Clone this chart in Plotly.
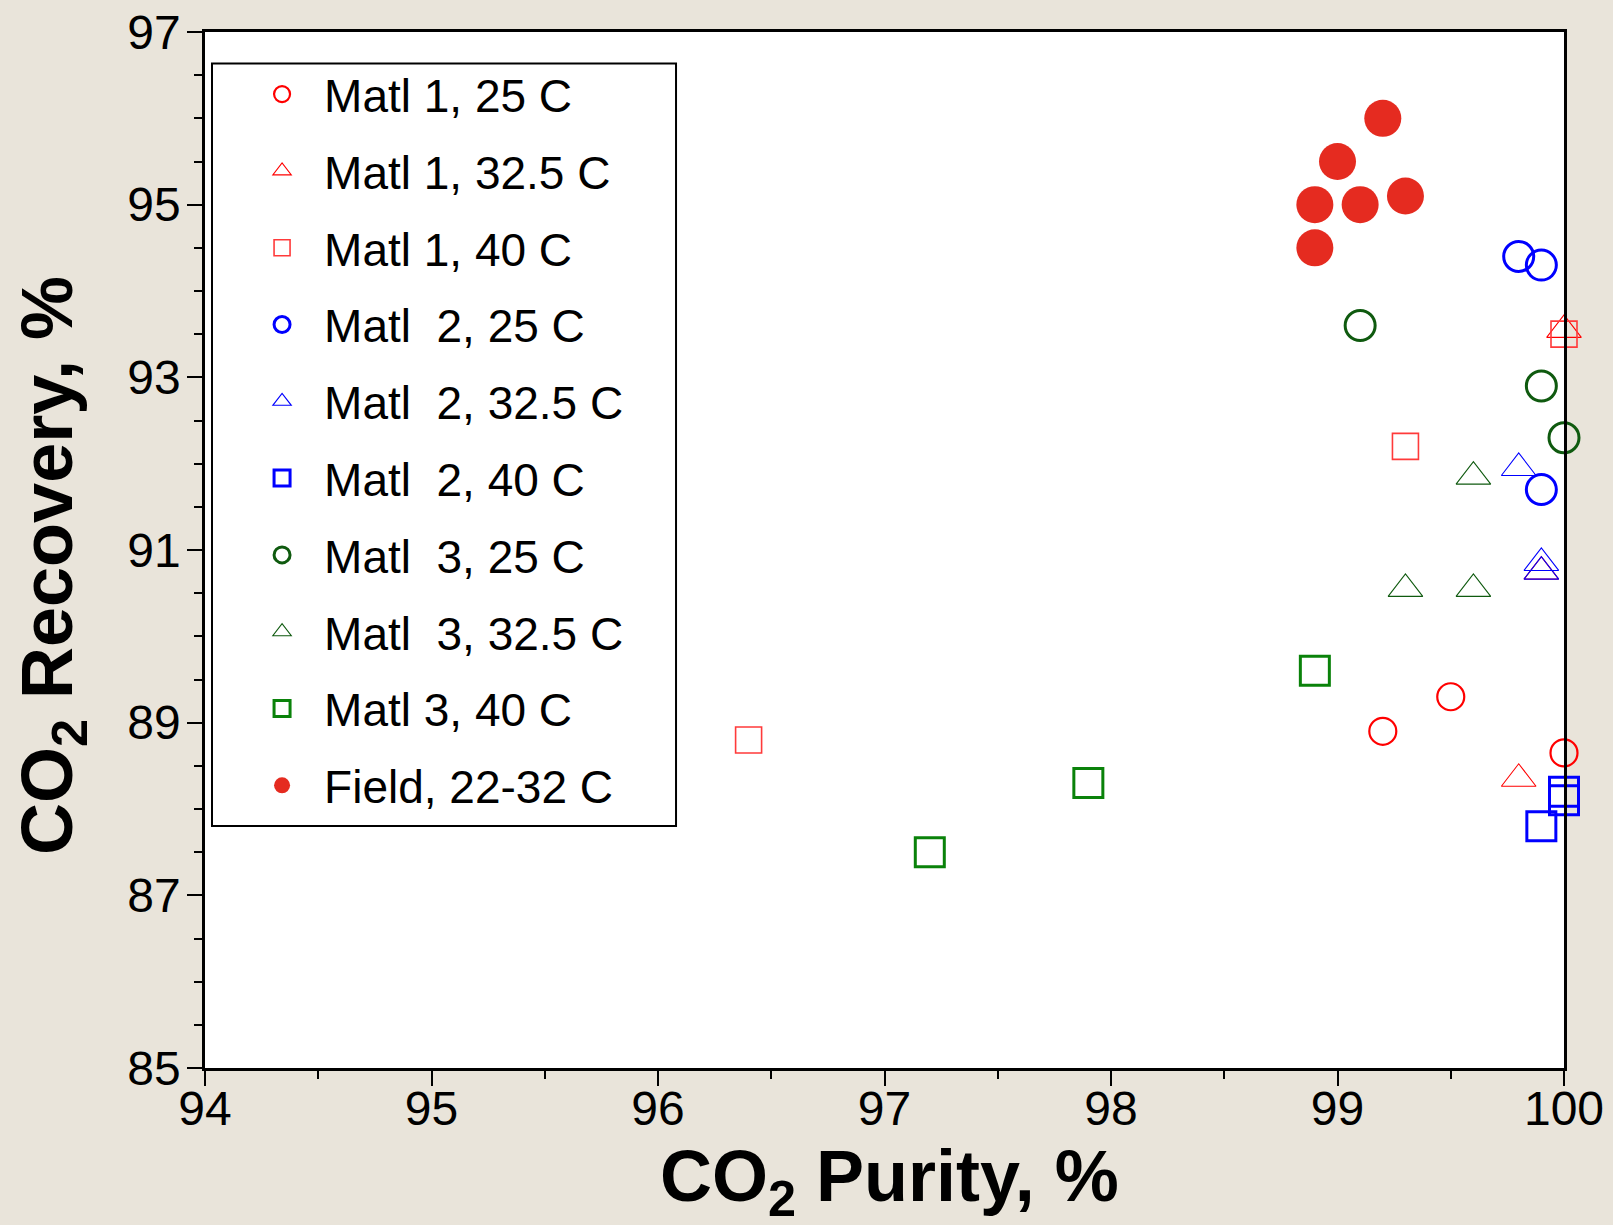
import plotly.graph_objects as go

# ---- data ----
m1_25_x = [99.2, 99.5, 100.0]
m1_25_y = [88.9, 89.3, 88.65]
m1_325_x = [100.0, 99.9, 99.8]
m1_325_y = [93.55, 90.75, 88.35]
m1_40_x = [100.0, 99.3, 96.4]
m1_40_y = [93.5, 92.2, 88.8]
m2_25_x = [99.8, 99.9, 99.9]
m2_25_y = [94.4, 94.3, 91.7]
m2_325_x = [99.8, 99.9, 99.9]
m2_325_y = [91.95, 90.85, 90.75]
m2_40_x = [100.0, 100.0, 99.9]
m2_40_y = [88.2, 88.1, 87.8]
m3_25_x = [99.1, 99.9, 100.0]
m3_25_y = [93.6, 92.9, 92.3]
m3_325_x = [99.6, 99.3, 99.6]
m3_325_y = [91.85, 90.55, 90.55]
m3_40_x = [98.9, 97.9, 97.2]
m3_40_y = [89.6, 88.3, 87.5]
field_x = [99.2, 99.0, 98.9, 99.1, 99.3, 98.9]
field_y = [96.0, 95.5, 95.0, 95.0, 95.1, 94.5]

labels = ["Matl 1, 25 C", "Matl 1, 32.5 C", "Matl 1, 40 C",
          "Matl\u00a0 2, 25 C", "Matl\u00a0 2, 32.5 C", "Matl\u00a0 2, 40 C",
          "Matl\u00a0 3, 25 C", "Matl\u00a0 3, 32.5 C", "Matl 3, 40 C",
          "Field, 22-32 C"]

x_ticks = [94, 95, 96, 97, 98, 99, 100]
y_ticks = [85, 87, 89, 91, 93, 95, 97]

x_title = "<b>CO<sub>2</sub> Purity, %</b>"
y_title = "<b>CO<sub>2</sub> Recovery, %</b>"

RED = "#ff0000"
RED_SQ = "#ff3a3a"
BLUE = "#0000ff"
GREEN_D = "#0f5a0f"
GREEN_SQ = "#0a820a"
FIELD = "#e52b20"

series = [
    (m1_25_x, m1_25_y, "circle-open", 27, RED, 2.2),
    (m1_325_x, m1_325_y, "triangle-up-open", 30, RED, 1.1),
    (m1_40_x, m1_40_y, "square-open", 26, RED_SQ, 1.6),
    (m2_25_x, m2_25_y, "circle-open", 30, BLUE, 3),
    (m2_325_x, m2_325_y, "triangle-up-open", 30, BLUE, 1.1),
    (m2_40_x, m2_40_y, "square-open", 29, BLUE, 3),
    (m3_25_x, m3_25_y, "circle-open", 30, GREEN_D, 3),
    (m3_325_x, m3_325_y, "triangle-up-open", 30, GREEN_D, 1.1),
    (m3_40_x, m3_40_y, "square-open", 29, GREEN_SQ, 3),
    (field_x, field_y, "circle", 37, FIELD, 0),
]

fig = go.Figure()
for i, ((xs, ys, sym, sz, col, lw), name) in enumerate(zip(series, labels)):
    fig.add_trace(go.Scatter(
        x=xs, y=ys, mode="markers", name=name, legendgroup=f"g{i}",
        cliponaxis=False,
        marker=dict(symbol=sym, size=sz, color=col,
                    line=dict(color=col, width=lw)),
    ))

FONT = "Liberation Sans, Arial, Helvetica, sans-serif"

fig.update_layout(
    width=1613, height=1225,
    margin=dict(l=205, r=49, t=32, b=157, autoexpand=False),
    paper_bgcolor="#e9e4da",
    plot_bgcolor="#ffffff",
    font=dict(family=FONT, color="black"),
    showlegend=True,
    legend=dict(
        x=0.0258, y=0.9752, xanchor="left", yanchor="top",
        bgcolor="rgba(0,0,0,0)", borderwidth=0,
        font=dict(size=46, family=FONT, color="black"),
        traceorder="grouped", tracegroupgap=14,
        itemwidth=74,
    ),
    shapes=[dict(
        type="rect", xref="paper", yref="paper",
        x0=0.00515, x1=0.3466, y0=0.2336, y1=0.9696,
        fillcolor="white", line=dict(color="black", width=2), layer="below",
    )],
    annotations=[
        dict(text=x_title, xref="paper", yref="paper", x=0.5037, y=-0.110,
             xanchor="center", yanchor="middle", showarrow=False,
             font=dict(size=72, family=FONT, color="black")),
        dict(text=y_title, xref="paper", yref="paper", x=-0.1126, y=0.4855,
             xanchor="center", yanchor="middle", showarrow=False, textangle=-90,
             font=dict(size=72, family=FONT, color="black")),
    ],
)

fig.update_xaxes(
    range=[94, 100], tickvals=x_ticks, ticktext=[str(v) for v in x_ticks],
    showgrid=False, zeroline=False, automargin=False,
    showline=True, linecolor="black", linewidth=2.5, mirror=True,
    ticks="outside", ticklen=15, tickwidth=1.5, tickcolor="black",
    tickfont=dict(size=48, family=FONT), ticklabelstandoff=-18,
    minor=dict(dtick=0.5, ticks="outside", ticklen=8, tickwidth=1.5, tickcolor="black", showgrid=False),
)
fig.update_yaxes(
    range=[85, 97], tickvals=y_ticks, ticktext=[str(v) for v in y_ticks],
    showgrid=False, zeroline=False, automargin=False,
    showline=True, linecolor="black", linewidth=2.5, mirror=True,
    ticks="outside", ticklen=15, tickwidth=1.5, tickcolor="black",
    tickfont=dict(size=48, family=FONT), ticklabelstandoff=-3,
    minor=dict(dtick=0.5, ticks="outside", ticklen=8, tickwidth=1.5, tickcolor="black", showgrid=False),
)

fig.write_html("out.html")
